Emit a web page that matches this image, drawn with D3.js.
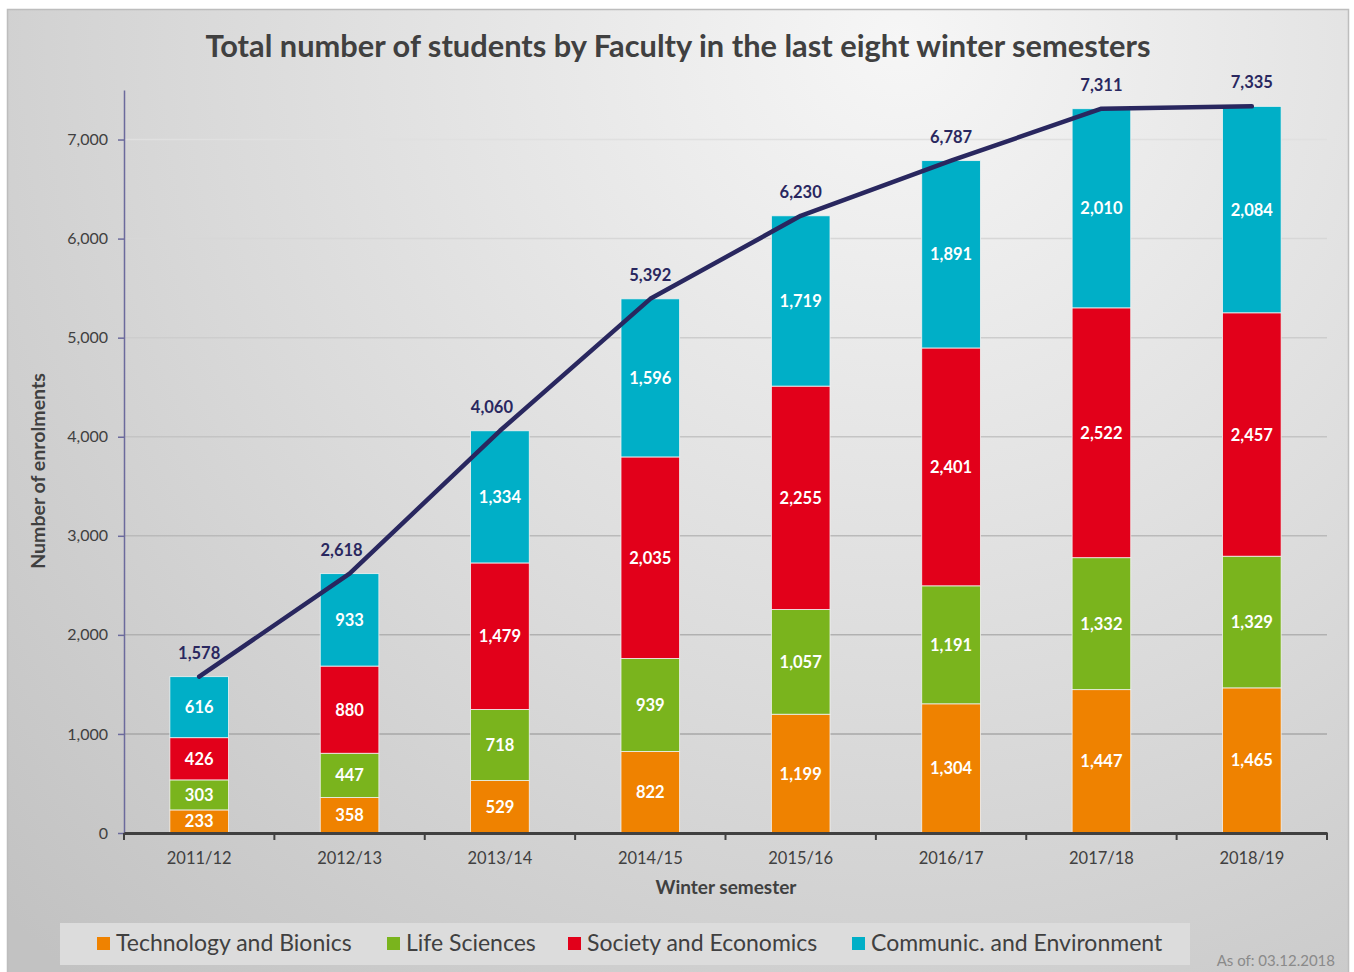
<!DOCTYPE html>
<html>
<head>
<meta charset="utf-8">
<script src="https://cdn.jsdelivr.net/npm/d3@7"></script>
<style>
  body { margin: 0; background: #fff; }
  svg { display: block; font-family: Lato, "Open Sans", sans-serif; }
</style>
</head>
<body>
<svg id="chart" width="1354" height="972"></svg>
<script>
// chart data
var semesters = ["2011/12", "2012/13", "2013/14", "2014/15", "2015/16", "2016/17", "2017/18", "2018/19"];
var faculties = ["Technology and Bionics", "Life Sciences", "Society and Economics", "Communic. and Environment"];
var technology = [233, 358, 529, 822, 1199, 1304, 1447, 1465];
var lifeSciences = [303, 447, 718, 939, 1057, 1191, 1332, 1329];
var society = [426, 880, 1479, 2035, 2255, 2401, 2522, 2457];
var communic = [616, 933, 1334, 1596, 1719, 1891, 2010, 2084];
var totals = [1578, 2618, 4060, 5392, 6230, 6787, 7311, 7335];
var yTicks = [0, 1000, 2000, 3000, 4000, 5000, 6000, 7000];

var colors = ["#ef8200", "#7ab41d", "#e2001a", "#00afc7"];
var lineColor = "#29275f";
var textColor = "#404040";

var svg = d3.select("#chart");

// panel background
var defs = svg.append("defs");
var grad = defs.append("radialGradient")
    .attr("id", "bg")
    .attr("gradientUnits", "userSpaceOnUse")
    .attr("cx", 900).attr("cy", 40).attr("r", 1250);
grad.append("stop").attr("offset", "0%").attr("stop-color", "#f6f6f6");
grad.append("stop").attr("offset", "55%").attr("stop-color", "#dadada");
grad.append("stop").attr("offset", "100%").attr("stop-color", "#c2c2c2");

svg.append("rect")
    .attr("x", 7.5).attr("y", 9.5)
    .attr("width", 1341).attr("height", 970)
    .attr("fill", "url(#bg)")
    .attr("stroke", "#bdbdbd")
    .attr("stroke-width", 1.5);

// scales
var plotLeft = 124, plotRight = 1327, plotTop = 90, plotBottom = 833;

var x = d3.scaleBand()
    .domain(semesters)
    .range([plotLeft, plotRight])
    .paddingInner(0.61)
    .paddingOuter(0.305);

var y = d3.scaleLinear()
    .domain([0, 7500])
    .range([plotBottom, plotTop]);

// title
svg.append("text")
    .attr("x", 678).attr("y", 57)
    .attr("text-anchor", "middle")
    .attr("fill", textColor)
    .style("font-size", "30.8px")
    .style("font-weight", "bold")
    .text("Total number of students by Faculty in the last eight winter semesters");

// gridlines (lighter toward the top)
var gridColor = d3.interpolateRgb("#9e9e9e", "#e0e0e0");
svg.append("g").selectAll("line")
    .data(yTicks.filter(function(d) { return d > 0; }))
    .enter().append("line")
    .attr("x1", plotLeft).attr("x2", plotRight)
    .attr("y1", function(d) { return y(d); })
    .attr("y2", function(d) { return y(d); })
    .attr("stroke", function(d) { return gridColor(d / 7000); })
    .attr("stroke-width", 1.5);

// stacked bars
var rows = semesters.map(function(s, i) {
    return { semester: s, 0: technology[i], 1: lifeSciences[i], 2: society[i], 3: communic[i] };
});
var stack = d3.stack().keys([0, 1, 2, 3]);
var series = stack(rows);

var groups = svg.append("g").selectAll("g")
    .data(series)
    .enter().append("g")
    .attr("fill", function(d, i) { return colors[i]; });

groups.selectAll("rect")
    .data(function(d) { return d; })
    .enter().append("rect")
    .attr("x", function(d) { return x(d.data.semester); })
    .attr("width", x.bandwidth())
    .attr("y", function(d) { return y(d[1]); })
    .attr("height", function(d) { return y(d[0]) - y(d[1]); })
    .attr("stroke", "#f2f2f2")
    .attr("stroke-width", 0.8);

// segment labels
groups.selectAll("text")
    .data(function(d) { return d; })
    .enter().append("text")
    .attr("x", function(d) { return x(d.data.semester) + x.bandwidth() / 2; })
    .attr("y", function(d) { return (y(d[0]) + y(d[1])) / 2 + 6; })
    .attr("text-anchor", "middle")
    .attr("fill", "#fff")
    .style("font-size", "16.5px")
    .style("font-weight", "bold")
    .text(function(d) { return d3.format(",")(d[1] - d[0]); });

// y axis
var yAxis = svg.append("g")
    .attr("transform", "translate(" + plotLeft + ",0)")
    .call(d3.axisLeft(y).tickValues(yTicks).tickFormat(d3.format(",")).tickSize(6).tickPadding(10).tickSizeOuter(0));
yAxis.select(".domain").attr("stroke", "#6b6a9c").attr("stroke-width", 1.5);
yAxis.selectAll(".tick line").attr("stroke", "#6b6a9c").attr("stroke-width", 1.5);
yAxis.selectAll(".tick text")
    .attr("fill", textColor)
    .style("font-size", "16px")
    .style("font-family", "Lato, sans-serif");

// x axis
var xAxis = svg.append("g")
    .attr("transform", "translate(0," + plotBottom + ")")
    .call(d3.axisBottom(x).tickSize(0).tickPadding(19).tickSizeOuter(0));
xAxis.select(".domain").attr("stroke", "#404040").attr("stroke-width", 3);
xAxis.selectAll(".tick text")
    .attr("fill", textColor)
    .style("font-size", "16.5px")
    .style("font-family", "Lato, sans-serif");

// x axis tick marks on band boundaries
var bounds = d3.range(semesters.length + 1).map(function(i) { return plotLeft + i * x.step(); });
svg.append("g").selectAll("line")
    .data(bounds)
    .enter().append("line")
    .attr("x1", function(d) { return d; }).attr("x2", function(d) { return d; })
    .attr("y1", plotBottom).attr("y2", plotBottom + 7)
    .attr("stroke", "#404040")
    .attr("stroke-width", 2);

// axis titles
svg.append("text")
    .attr("transform", "translate(45,471) rotate(-90)")
    .attr("text-anchor", "middle")
    .attr("fill", textColor)
    .style("font-size", "19.5px")
    .style("font-weight", "bold")
    .text("Number of enrolments");

svg.append("text")
    .attr("x", 726).attr("y", 894)
    .attr("text-anchor", "middle")
    .attr("fill", textColor)
    .style("font-size", "19px")
    .style("font-weight", "bold")
    .text("Winter semester");

// total line
var line = d3.line()
    .x(function(d, i) { return x(semesters[i]) + x.bandwidth() / 2; })
    .y(function(d) { return y(d); });

svg.append("path")
    .datum(totals)
    .attr("d", line)
    .attr("fill", "none")
    .attr("stroke", lineColor)
    .attr("stroke-width", 4.5)
    .attr("stroke-linecap", "round")
    .attr("stroke-linejoin", "round");

// total labels, nudged left where the line climbs steeply through them
svg.append("g").selectAll("text")
    .data(totals)
    .enter().append("text")
    .attr("x", function(d, i) {
        var cx = x(semesters[i]) + x.bandwidth() / 2;
        var next = totals[i + 1];
        var steep = next !== undefined && next - d > 1000 && i > 0;
        return steep ? cx - 8 : cx;
    })
    .attr("y", function(d) { return y(d) - 18; })
    .attr("text-anchor", "middle")
    .attr("fill", lineColor)
    .style("font-size", "16.5px")
    .style("font-weight", "bold")
    .text(function(d) { return d3.format(",")(d); });

// legend
svg.append("rect")
    .attr("x", 60).attr("y", 923)
    .attr("width", 1130).attr("height", 42)
    .attr("fill", "#dcdcdc");

var legendX = [97, 387, 568, 852];
var legend = svg.append("g").selectAll("g")
    .data(faculties)
    .enter().append("g")
    .attr("transform", function(d, i) { return "translate(" + legendX[i] + ",937)"; });

legend.append("rect")
    .attr("width", 13).attr("height", 13)
    .attr("fill", function(d, i) { return colors[i]; });

legend.append("text")
    .attr("x", 19).attr("y", 14)
    .attr("fill", textColor)
    .style("font-size", "23px")
    .text(function(d) { return d; });

// footnote
svg.append("text")
    .attr("x", 1335).attr("y", 966)
    .attr("text-anchor", "end")
    .attr("fill", "#8a8a8a")
    .style("font-size", "15px")
    .text("As of: 03.12.2018");
</script>
</body>
</html>
